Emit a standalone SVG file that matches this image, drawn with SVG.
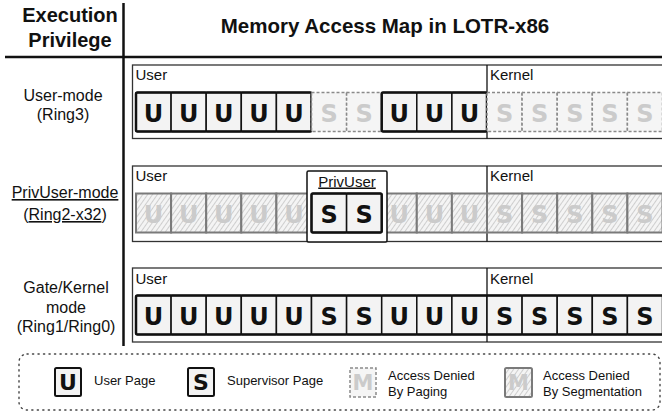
<svg xmlns="http://www.w3.org/2000/svg" width="662" height="412" viewBox="0 0 662 412">
<style>
.hdr{font-family:"Liberation Sans",Arial,sans-serif;font-weight:bold;font-size:20px;text-anchor:middle;fill:#111}
.lab{font-family:"Liberation Sans",Arial,sans-serif;font-size:16px;text-anchor:middle;fill:#111}
.flab{font-family:"Liberation Sans",Arial,sans-serif;font-size:15px;fill:#111}
.leg{font-family:"Liberation Sans",Arial,sans-serif;font-size:13px;fill:#111}
.frame{fill:#fff;stroke:#333;stroke-width:1.3}
.div{stroke:#111;stroke-width:1.3}
.cell{fill:#f3f3f3;stroke:#111;stroke-width:1.5}
.grp{fill:none;stroke:#111;stroke-width:2.5}
.dash{fill:#f5f5f5;stroke:#8a8a8a;stroke-width:1.5;stroke-dasharray:3 2}
.hat{fill:url(#hatch);stroke:#7a7a7a;stroke-width:2}
.L{font-family:"DejaVu Sans",Verdana,sans-serif;font-weight:bold;font-size:24px;text-anchor:middle;fill:#111}
.Lg{font-family:"DejaVu Sans",Verdana,sans-serif;font-weight:bold;font-size:24px;text-anchor:middle;fill:#cbcbcb}
.Lm{font-family:"DejaVu Sans",Verdana,sans-serif;font-weight:bold;font-size:21px;text-anchor:middle;fill:#cbcbcb}
.Lb{font-family:"DejaVu Sans",Verdana,sans-serif;font-weight:bold;font-size:22px;text-anchor:middle;fill:#111}
</style>
<defs>
<pattern id="hatch" width="4" height="4" patternUnits="userSpaceOnUse" patternTransform="rotate(35)">
<rect width="4" height="4" fill="#f4f4f4"/>
<line x1="0" y1="0" x2="0" y2="4" stroke="#a8a8a8" stroke-width="1"/>
</pattern>
</defs>

<g id="header">
<text class="hdr" x="70" y="22">Execution</text>
<text class="hdr" x="70" y="47">Privilege</text>
<text class="hdr" x="385" y="33" style="font-size:20.5px">Memory Access Map in LOTR-x86</text>
</g>

<g id="grid-lines">
<line x1="5" y1="57" x2="662" y2="57" stroke="#111" stroke-width="2.5"/>
<line x1="123.5" y1="3" x2="123.5" y2="346" stroke="#111" stroke-width="2.5"/>
</g>

<g id="label-user-mode">
<text class="lab" x="63" y="101">User-mode</text>
<text class="lab" x="63" y="120">(Ring3)</text>
</g>
<g id="label-privuser-mode">
<text class="lab" x="65" y="198" text-decoration="underline">PrivUser-mode</text>
<text class="lab" x="65" y="220">(<tspan text-decoration="underline">Ring2-x32</tspan>)</text>
</g>
<g id="label-kernel-mode">
<text class="lab" x="66" y="293">Gate/Kernel</text>
<text class="lab" x="66" y="313">mode</text>
<text class="lab" x="66" y="332">(Ring1/Ring0)</text>
</g>

<!-- Row 1: User-mode -->
<g id="row1">
<rect class="frame" x="132.5" y="65" width="540" height="73.5"/>
<line class="div" x1="487" y1="65" x2="487" y2="138.5"/>
<text class="flab" x="135.5" y="80">User</text>
<text class="flab" x="490" y="80">Kernel</text>
<g id="r1c0"><rect class="cell" x="136" y="92.5" width="35.1" height="39" rx="1"/><text class="L" x="153.6" y="121.5">U</text></g>
<g id="r1c1"><rect class="cell" x="171.1" y="92.5" width="35.1" height="39" rx="1"/><text class="L" x="188.7" y="121.5">U</text></g>
<g id="r1c2"><rect class="cell" x="206.2" y="92.5" width="35.1" height="39" rx="1"/><text class="L" x="223.8" y="121.5">U</text></g>
<g id="r1c3"><rect class="cell" x="241.3" y="92.5" width="35.1" height="39" rx="1"/><text class="L" x="258.9" y="121.5">U</text></g>
<g id="r1c4"><rect class="cell" x="276.4" y="92.5" width="35.1" height="39" rx="1"/><text class="L" x="294" y="121.5">U</text></g>
<rect class="grp" x="136" y="92.5" width="175.5" height="39" rx="1.5"/>
<g id="r1c5"><rect class="dash" x="311.5" y="92.5" width="35.1" height="39"/><text class="Lg" x="329.1" y="121.5">S</text></g>
<g id="r1c6"><rect class="dash" x="346.6" y="92.5" width="35.1" height="39"/><text class="Lg" x="364.2" y="121.5">S</text></g>
<g id="r1c7"><rect class="cell" x="381.7" y="92.5" width="35.1" height="39" rx="1"/><text class="L" x="399.3" y="121.5">U</text></g>
<g id="r1c8"><rect class="cell" x="416.8" y="92.5" width="35.1" height="39" rx="1"/><text class="L" x="434.4" y="121.5">U</text></g>
<g id="r1c9"><rect class="cell" x="451.9" y="92.5" width="35.1" height="39" rx="1"/><text class="L" x="469.5" y="121.5">U</text></g>
<rect class="grp" x="381.7" y="92.5" width="105.3" height="39" rx="1.5"/>
<g id="r1c10"><rect class="dash" x="487" y="92.5" width="35.1" height="39"/><text class="Lg" x="504.6" y="121.5">S</text></g>
<g id="r1c11"><rect class="dash" x="522.1" y="92.5" width="35.1" height="39"/><text class="Lg" x="539.7" y="121.5">S</text></g>
<g id="r1c12"><rect class="dash" x="557.2" y="92.5" width="35.1" height="39"/><text class="Lg" x="574.8" y="121.5">S</text></g>
<g id="r1c13"><rect class="dash" x="592.3" y="92.5" width="35.1" height="39"/><text class="Lg" x="609.9" y="121.5">S</text></g>
<g id="r1c14"><rect class="dash" x="627.4" y="92.5" width="35.1" height="39"/><text class="Lg" x="645" y="121.5">S</text></g>
</g>

<!-- Row 2: PrivUser-mode -->
<g id="row2">
<rect class="frame" x="132.5" y="166" width="540" height="75.5"/>
<line class="div" x1="487" y1="166" x2="487" y2="241.5"/>
<text class="flab" x="135.5" y="181">User</text>
<text class="flab" x="490" y="181">Kernel</text>
<g id="r2c0"><rect class="hat" x="136" y="193.5" width="35.1" height="39"/><text class="Lg" x="153.6" y="222.5">U</text></g>
<g id="r2c1"><rect class="hat" x="171.1" y="193.5" width="35.1" height="39"/><text class="Lg" x="188.7" y="222.5">U</text></g>
<g id="r2c2"><rect class="hat" x="206.2" y="193.5" width="35.1" height="39"/><text class="Lg" x="223.8" y="222.5">U</text></g>
<g id="r2c3"><rect class="hat" x="241.3" y="193.5" width="35.1" height="39"/><text class="Lg" x="258.9" y="222.5">U</text></g>
<g id="r2c4"><rect class="hat" x="276.4" y="193.5" width="35.1" height="39"/><text class="Lg" x="294" y="222.5">U</text></g>
<g id="r2c7"><rect class="hat" x="381.7" y="193.5" width="35.1" height="39"/><text class="Lg" x="399.3" y="222.5">U</text></g>
<g id="r2c8"><rect class="hat" x="416.8" y="193.5" width="35.1" height="39"/><text class="Lg" x="434.4" y="222.5">U</text></g>
<g id="r2c9"><rect class="hat" x="451.9" y="193.5" width="35.1" height="39"/><text class="Lg" x="469.5" y="222.5">U</text></g>
<g id="r2c10"><rect class="hat" x="487" y="193.5" width="35.1" height="39"/><text class="Lg" x="504.6" y="222.5">S</text></g>
<g id="r2c11"><rect class="hat" x="522.1" y="193.5" width="35.1" height="39"/><text class="Lg" x="539.7" y="222.5">S</text></g>
<g id="r2c12"><rect class="hat" x="557.2" y="193.5" width="35.1" height="39"/><text class="Lg" x="574.8" y="222.5">S</text></g>
<g id="r2c13"><rect class="hat" x="592.3" y="193.5" width="35.1" height="39"/><text class="Lg" x="609.9" y="222.5">S</text></g>
<g id="r2c14"><rect class="hat" x="627.4" y="193.5" width="35.1" height="39"/><text class="Lg" x="645" y="222.5">S</text></g>
<g id="privuser-box">
<rect x="307" y="171" width="80" height="71" rx="1.5" fill="#fff" stroke="#111" stroke-width="1.5"/>
<text class="flab" x="347" y="186.5" text-anchor="middle" text-decoration="underline">PrivUser</text>
<g id="r2c5"><rect class="cell" x="311.5" y="193.5" width="35.1" height="39" rx="1"/><text class="L" x="329.1" y="222.5">S</text></g>
<g id="r2c6"><rect class="cell" x="346.6" y="193.5" width="35.1" height="39" rx="1"/><text class="L" x="364.2" y="222.5">S</text></g>
<rect class="grp" x="311.5" y="193.5" width="70.2" height="39" rx="1.5"/>
</g>
</g>

<!-- Row 3: Gate/Kernel mode -->
<g id="row3">
<rect class="frame" x="132.5" y="268" width="540" height="74"/>
<line class="div" x1="487" y1="268" x2="487" y2="342"/>
<text class="flab" x="135.5" y="284">User</text>
<text class="flab" x="490" y="284">Kernel</text>
<g id="r3c0"><rect class="cell" x="136" y="295.5" width="35.1" height="39" rx="1"/><text class="L" x="153.6" y="324.5">U</text></g>
<g id="r3c1"><rect class="cell" x="171.1" y="295.5" width="35.1" height="39" rx="1"/><text class="L" x="188.7" y="324.5">U</text></g>
<g id="r3c2"><rect class="cell" x="206.2" y="295.5" width="35.1" height="39" rx="1"/><text class="L" x="223.8" y="324.5">U</text></g>
<g id="r3c3"><rect class="cell" x="241.3" y="295.5" width="35.1" height="39" rx="1"/><text class="L" x="258.9" y="324.5">U</text></g>
<g id="r3c4"><rect class="cell" x="276.4" y="295.5" width="35.1" height="39" rx="1"/><text class="L" x="294" y="324.5">U</text></g>
<g id="r3c5"><rect class="cell" x="311.5" y="295.5" width="35.1" height="39" rx="1"/><text class="L" x="329.1" y="324.5">S</text></g>
<g id="r3c6"><rect class="cell" x="346.6" y="295.5" width="35.1" height="39" rx="1"/><text class="L" x="364.2" y="324.5">S</text></g>
<g id="r3c7"><rect class="cell" x="381.7" y="295.5" width="35.1" height="39" rx="1"/><text class="L" x="399.3" y="324.5">U</text></g>
<g id="r3c8"><rect class="cell" x="416.8" y="295.5" width="35.1" height="39" rx="1"/><text class="L" x="434.4" y="324.5">U</text></g>
<g id="r3c9"><rect class="cell" x="451.9" y="295.5" width="35.1" height="39" rx="1"/><text class="L" x="469.5" y="324.5">U</text></g>
<g id="r3c10"><rect class="cell" x="487" y="295.5" width="35.1" height="39" rx="1"/><text class="L" x="504.6" y="324.5">S</text></g>
<g id="r3c11"><rect class="cell" x="522.1" y="295.5" width="35.1" height="39" rx="1"/><text class="L" x="539.7" y="324.5">S</text></g>
<g id="r3c12"><rect class="cell" x="557.2" y="295.5" width="35.1" height="39" rx="1"/><text class="L" x="574.8" y="324.5">S</text></g>
<g id="r3c13"><rect class="cell" x="592.3" y="295.5" width="35.1" height="39" rx="1"/><text class="L" x="609.9" y="324.5">S</text></g>
<g id="r3c14"><rect class="cell" x="627.4" y="295.5" width="35.1" height="39" rx="1"/><text class="L" x="645" y="324.5">S</text></g>
<rect class="grp" x="136" y="295.5" width="540" height="39" rx="1.5"/>
</g>

<g id="connectors"></g>

<!-- Legend -->
<g id="legend">
<rect x="19" y="354" width="641" height="56" rx="8" fill="none" stroke="#444" stroke-width="1.4" stroke-dasharray="1.2 4.3" stroke-linecap="round"/>
<g id="leg-user">
<rect x="55" y="368" width="26" height="28" rx="1.5" fill="#f3f3f3" stroke="#111" stroke-width="2"/>
<text class="Lb" x="68" y="390">U</text>
<text class="leg" x="94" y="385">User Page</text>
</g>
<g id="leg-super">
<rect x="188" y="368" width="26" height="28" rx="1.5" fill="#f3f3f3" stroke="#111" stroke-width="2"/>
<text class="Lb" x="201" y="390">S</text>
<text class="leg" x="227" y="385">Supervisor Page</text>
</g>
<g id="leg-paging">
<rect x="350" y="368" width="26" height="29" fill="#f5f5f5" stroke="#8a8a8a" stroke-width="1.5" stroke-dasharray="3 2"/>
<text class="Lm" x="363" y="390">M</text>
<text class="leg" x="388" y="380">Access Denied</text>
<text class="leg" x="388" y="396">By Paging</text>
</g>
<g id="leg-seg">
<rect x="505" y="368" width="27" height="29" rx="1.5" fill="url(#hatch)" stroke="#7a7a7a" stroke-width="2"/>
<text class="Lm" x="518.5" y="390">M</text>
<text class="leg" x="543" y="380">Access Denied</text>
<text class="leg" x="543" y="396">By Segmentation</text>
</g>
</g>
</svg>
